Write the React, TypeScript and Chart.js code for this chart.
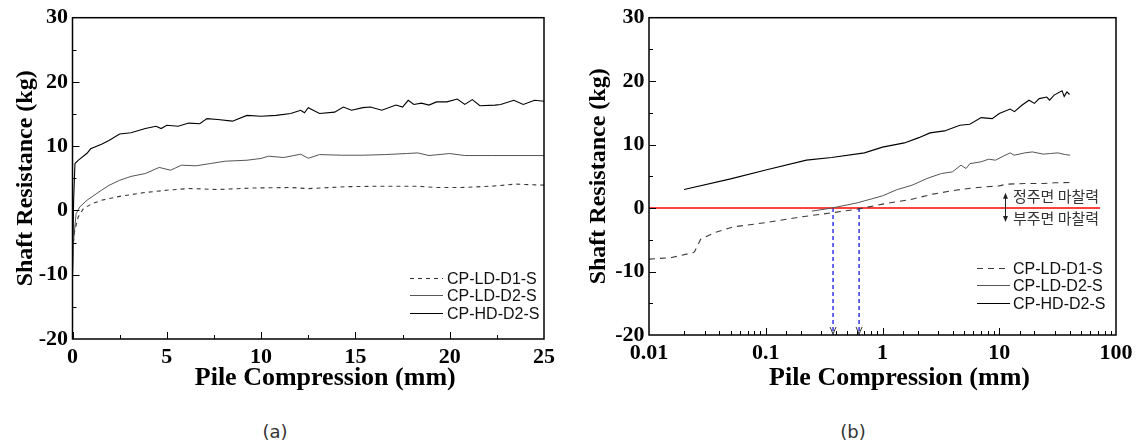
import React, { useEffect, useRef } from 'react';
import { Chart, registerables } from 'chart.js';
Chart.register(...registerables);

type P = [number, number];

const seriesNames = ['CP-LD-D1-S', 'CP-LD-D2-S', 'CP-HD-D2-S'];
const panelLabels = ['(a)', '(b)'];
const xTitle = 'Pile Compression (mm)';
const yTitle = 'Shaft Resistance (kg)';
const logTickLabels = ['0.01', '0.1', '1', '10', '100'];

// (a) linear x
const aLD1: P[] = [
  [0.05, -5], [0.1, -3.4], [0.3, -1.0], [0.58, 0.3], [1.0, 1.0], [1.54, 1.6], [2.5, 2.2], [3.86, 2.8],
  [5.0, 3.16], [6.17, 3.42], [7.7, 3.26], [9.6, 3.5], [11.57, 3.57], [12.5, 3.4], [14.5, 3.7],
  [16.4, 3.78], [18.3, 3.78], [19.3, 3.57], [20.6, 3.57], [22.2, 3.78], [23.5, 4.1], [25, 3.94],
];
const aLD2: P[] = [
  [0, -10], [0.06, -4.6], [0.19, -0.5], [0.39, 0.57], [0.77, 1.6], [1.54, 3.16], [1.93, 3.9], [2.5, 4.7],
  [3.1, 5.3], [3.86, 5.75], [4.6, 6.7], [5.2, 6.27], [5.78, 7.05], [6.55, 6.95], [7.3, 7.3], [8.1, 7.67],
  [9.25, 7.82], [10.0, 8.1], [10.4, 8.45], [11.2, 8.24], [12.1, 8.76], [12.5, 8.13], [13.1, 8.7],
  [14.26, 8.6], [15.4, 8.6], [16.6, 8.7], [17.7, 8.86], [18.3, 8.96], [18.9, 8.55], [20.0, 8.86],
  [20.8, 8.55], [22.2, 8.55], [25, 8.55],
];
const aHD2: P[] = [
  [0, -10.3], [0.06, 1.6], [0.13, 7.3], [0.3, 7.8], [0.77, 8.9], [0.96, 9.6], [1.54, 10.3], [1.93, 10.9],
  [2.5, 11.9], [3.1, 12.1], [3.86, 12.75], [4.43, 13.1], [4.7, 12.75], [5.0, 13.26], [5.6, 13.1],
  [6.17, 13.6], [6.75, 13.5], [7.13, 14.3], [7.7, 14.15], [8.48, 13.9], [9.25, 14.8], [10.0, 14.66],
  [10.8, 14.8], [11.57, 15.1], [12.1, 15.6], [12.3, 15.2], [12.5, 16.0], [13.1, 15.1], [13.9, 15.3],
  [14.36, 16.1], [14.8, 15.6], [15.4, 16.0], [15.8, 16.1], [16.4, 15.6], [17.15, 16.4], [17.5, 16.1],
  [17.8, 17.15], [18.1, 16.5], [18.5, 16.7], [18.9, 16.4], [19.3, 16.9], [19.85, 16.9], [20.4, 17.35],
  [20.8, 16.5], [21.2, 17.25], [21.6, 16.3], [22.4, 16.4], [22.7, 16.5], [23.4, 17.15], [23.9, 16.5],
  [24.5, 17.15], [25, 17.0],
];

// (b) log x
const bLD1: P[] = [
  [0.01, -8.04], [0.0156, -7.8], [0.024, -7.0], [0.0245, -6.9], [0.0258, -6.1], [0.0277, -4.9],
  [0.037, -3.84], [0.053, -2.95], [0.1, -2.3], [0.2, -1.4], [0.366, -0.75], [0.61, -0.17], [1.0, 0.62],
  [1.79, 1.4], [2.7, 2.2], [4.2, 2.82], [6.5, 3.24], [10, 3.5], [11.6, 3.77], [16.6, 3.87], [23.8, 3.87],
  [29.5, 3.98], [40.5, 4.03],
];
const bLD2: P[] = [
  [0.248, -0.48], [0.366, 0.0], [0.61, 0.83], [1.0, 1.93], [1.34, 2.93], [1.79, 3.6], [2.4, 4.66],
  [3.2, 5.45], [3.96, 5.7], [4.7, 6.76], [5.2, 6.23], [5.6, 7.0], [7.0, 7.3], [8.1, 7.7], [9.3, 7.55],
  [10.8, 8.17], [12.4, 8.7], [13.4, 8.33], [16.6, 8.7], [19.2, 8.85], [23.8, 8.5], [27.5, 8.6],
  [31.7, 8.7], [36.7, 8.43], [40.5, 8.33],
];
const bHD2: P[] = [
  [0.02, 2.93], [0.05, 4.6], [0.1, 6.0], [0.223, 7.55], [0.366, 7.96], [0.7, 8.7], [1.0, 9.6],
  [1.54, 10.27], [2.05, 11.1], [2.55, 11.85], [3.4, 12.16], [4.6, 13.05], [5.6, 13.2], [7.0, 14.25],
  [8.7, 14.1], [10, 14.9], [12.4, 15.6], [13.5, 15.2], [15.6, 16.2], [18, 17.0], [20, 16.5], [22, 17.25],
  [25.5, 17.5], [27, 17.0], [29.5, 17.8], [34.5, 18.5], [36, 17.6], [38, 18.3], [40, 17.9],
];
const zeroLineX = [0.01, 73];
const crossingX = [0.377, 0.63];
const frictionLabels = ['정주면 마찰력', '부주면 마찰력'];
const frictionLabelAt = { x: 13.1, yUp: 1.9, yDown: -1.6, arrowTop: 2.4, arrowBottom: -2.2 };

const SERIF = '"Liberation Serif", "Times New Roman", serif';
const SANS = '"Liberation Sans", Arial, sans-serif';

const toXY = (pts: P[]) => pts.map(([x, y]) => ({ x, y }));

const frameTicks = {
  id: 'frameTicks',
  afterDraw(chart: any) {
    const { ctx, chartArea: ca, scales } = chart;
    ctx.save();
    ctx.strokeStyle = '#000';
    ctx.lineWidth = 1;
    const xs = scales.x;
    const ys = scales.y;
    xs.ticks.forEach((t: any) => {
      const px = Math.round(xs.getPixelForValue(t.value)) + 0.5;
      if (px < ca.left + 1 || px > ca.right - 1) return;
      const len = t.label ? 7 : 4;
      ctx.beginPath();
      ctx.moveTo(px, ca.bottom);
      ctx.lineTo(px, ca.bottom - len);
      ctx.stroke();
    });
    ys.ticks.forEach((t: any) => {
      const py = Math.round(ys.getPixelForValue(t.value)) + 0.5;
      if (py < ca.top + 1 || py > ca.bottom - 1) return;
      const len = t.label ? 7 : 4;
      ctx.beginPath();
      ctx.moveTo(ca.left, py);
      ctx.lineTo(ca.left + len, py);
      ctx.stroke();
    });
    ctx.lineWidth = 1.5;
    ctx.strokeRect(ca.left, ca.top, ca.right - ca.left, ca.bottom - ca.top);
    // x axis title (sits slightly right of the plot centre in the reference)
    ctx.font = `bold 26px ${SERIF}`;
    ctx.fillStyle = '#000';
    ctx.textAlign = 'center';
    ctx.textBaseline = 'middle';
    ctx.fillText(xTitle, (ca.left + ca.right) / 2 + 17, chart.height - 22);
    ctx.restore();
  },
};

const customLegend = {
  id: 'customLegend',
  afterDraw(chart: any, _args: any, opts: any) {
    const { ctx, chartArea: ca } = chart;
    ctx.save();
    ctx.font = `16px ${SANS}`;
    ctx.textBaseline = 'middle';
    ctx.textAlign = 'left';
    ctx.fillStyle = '#111';
    for (let i = 0; i < 3; i++) {
      const ds = chart.data.datasets[i];
      const y = Math.round(ca.bottom - opts.rows[i]) + 0.5;
      ctx.strokeStyle = ds.borderColor;
      ctx.lineWidth = ds.borderWidth;
      ctx.setLineDash(ds.borderDash || []);
      ctx.beginPath();
      ctx.moveTo(ca.right - opts.lineFrom, y);
      ctx.lineTo(ca.right - opts.lineTo, y);
      ctx.stroke();
      ctx.setLineDash([]);
      ctx.fillText(ds.label, ca.right - opts.textFrom, y + 1);
    }
    ctx.restore();
  },
};

const frictionNotes = {
  id: 'frictionNotes',
  afterDraw(chart: any) {
    const { ctx, chartArea: ca, scales } = chart;
    const xs = scales.x;
    const ys = scales.y;
    ctx.save();
    ctx.fillStyle = '#222';
    ctx.lineWidth = 1;
    crossingX.forEach((v) => {
      const px = xs.getPixelForValue(v);
      ctx.strokeStyle = '#333';
      ctx.beginPath();
      ctx.moveTo(px - 3, ca.bottom - 8);
      ctx.lineTo(px, ca.bottom - 1);
      ctx.lineTo(px + 3, ca.bottom - 8);
      ctx.stroke();
    });
    const tx = xs.getPixelForValue(frictionLabelAt.x);
    const ax = Math.round(tx - 8) + 0.5;
    const yt = ys.getPixelForValue(frictionLabelAt.arrowTop);
    const yb = ys.getPixelForValue(frictionLabelAt.arrowBottom);
    ctx.strokeStyle = '#222';
    ctx.beginPath();
    ctx.moveTo(ax, yt + 2);
    ctx.lineTo(ax, yb - 2);
    ctx.stroke();
    ctx.beginPath();
    ctx.moveTo(ax, yt);
    ctx.lineTo(ax - 2.5, yt + 6);
    ctx.lineTo(ax + 2.5, yt + 6);
    ctx.closePath();
    ctx.fill();
    ctx.beginPath();
    ctx.moveTo(ax, yb);
    ctx.lineTo(ax - 2.5, yb - 6);
    ctx.lineTo(ax + 2.5, yb - 6);
    ctx.closePath();
    ctx.fill();
    ctx.font = `15px "Noto Sans CJK KR", sans-serif`;
    ctx.textBaseline = 'middle';
    ctx.textAlign = 'left';
    ctx.fillStyle = '#333';
    ctx.fillText(frictionLabels[0], tx, ys.getPixelForValue(frictionLabelAt.yUp));
    ctx.fillText(frictionLabels[1], tx, ys.getPixelForValue(frictionLabelAt.yDown));
    ctx.restore();
  },
};

function seriesDatasets(sets: P[][], d1Dash: number[]) {
  const styles = [
    { borderColor: '#3a3a3a', borderWidth: 1.1, borderDash: d1Dash },
    { borderColor: '#555555', borderWidth: 1, borderDash: [] as number[] },
    { borderColor: '#000000', borderWidth: 1.1, borderDash: [] as number[] },
  ];
  return sets.map((pts, i) => ({
    label: seriesNames[i],
    data: toXY(pts),
    pointRadius: 0,
    tension: 0,
    fill: false,
    ...styles[i],
  }));
}

const tickFont = { family: SERIF, size: 22, weight: 'bold' };

function yAxis(width: number, titlePad: number) {
  return {
    type: 'linear',
    min: -20,
    max: 30,
    grid: { display: false, drawTicks: false, tickLength: 0 },
    border: { display: false },
    ticks: {
      stepSize: 5,
      autoSkip: false,
      padding: 4.5,
      color: '#000',
      font: tickFont,
      callback: (v: any) => (Number(v) % 10 === 0 ? String(v) : ''),
    },
    title: {
      display: true,
      text: yTitle,
      color: '#000',
      font: { family: SERIF, size: 24, weight: 'bold' },
      padding: { top: titlePad, bottom: 0 },
    },
    afterFit: (s: any) => { s.width = width; },
  };
}

function configA(): any {
  return {
    type: 'line',
    data: { datasets: seriesDatasets([aLD1, aLD2, aHD2], [4, 4]) },
    options: {
      animation: false,
      responsive: false,
      devicePixelRatio: 1,
      layout: { padding: { left: 0, right: 26, top: 17, bottom: 0 } },
      plugins: {
        legend: { display: false },
        tooltip: { enabled: false },
        customLegend: { lineFrom: 134, lineTo: 101, textFrom: 97, rows: [61, 44, 26] },
      },
      scales: {
        x: {
          type: 'linear',
          min: 0,
          max: 25,
          grid: { display: false, drawTicks: false, tickLength: 0 },
          border: { display: false },
          ticks: {
            stepSize: 2.5,
            autoSkip: false,
            maxRotation: 0,
            padding: 5,
            color: '#000',
            font: tickFont,
            callback: (v: any) => (Number(v) % 5 === 0 ? String(v) : ''),
          },
          title: { display: false },
          afterFit: (s: any) => { s.height = 61; },
        },
        y: yAxis(72.5, 11),
      },
    },
    plugins: [frameTicks, customLegend],
  };
}

function configB(): any {
  const extra = [
    {
      label: 'zero',
      data: zeroLineX.map((x) => ({ x, y: 0 })),
      borderColor: '#ff0000',
      borderWidth: 1.5,
      pointRadius: 0,
    },
    ...crossingX.map((x) => ({
      label: 'cross',
      data: [{ x, y: 0 }, { x, y: -20 }],
      borderColor: '#0000dd',
      borderWidth: 1.2,
      borderDash: [4, 3],
      pointRadius: 0,
    })),
  ];
  return {
    type: 'line',
    data: { datasets: [...seriesDatasets([bLD1, bLD2, bHD2], [6, 5]), ...extra] },
    options: {
      animation: false,
      responsive: false,
      devicePixelRatio: 1,
      layout: { padding: { left: 0, right: 25, top: 17, bottom: 0 } },
      plugins: {
        legend: { display: false },
        tooltip: { enabled: false },
        customLegend: { lineFrom: 139, lineTo: 106, textFrom: 103, rows: [67, 50, 32] },
      },
      scales: {
        x: {
          type: 'logarithmic',
          min: 0.01,
          max: 100,
          grid: { display: false, drawTicks: false, tickLength: 0 },
          border: { display: false },
          ticks: {
            autoSkip: false,
            maxRotation: 0,
            padding: 5,
            color: '#000',
            font: tickFont,
            callback: (v: any) => {
              const l = Math.log10(Number(v));
              const e = Math.round(l);
              return Math.abs(l - e) < 1e-6 ? logTickLabels[e + 2] : '';
            },
          },
          title: { display: false },
          afterFit: (s: any) => { s.height = 65; },
        },
        y: yAxis(79, 14),
      },
    },
    plugins: [frameTicks, customLegend, frictionNotes],
  };
}

function ChartCanvas({ make, left, w, h }: { make: () => any; left: number; w: number; h: number }) {
  const ref = useRef<HTMLCanvasElement>(null);
  useEffect(() => {
    const c = new Chart(ref.current as HTMLCanvasElement, make());
    return () => c.destroy();
  }, []);
  return (
    <canvas
      ref={ref}
      width={w}
      height={h}
      style={{ position: 'absolute', left, top: 0, width: w, height: h }}
    />
  );
}

export default function App() {
  const cap = {
    position: 'absolute' as const,
    top: 420,
    width: 60,
    textAlign: 'center' as const,
    fontFamily: '"DejaVu Sans", "Noto Sans", sans-serif',
    fontSize: 18,
    color: '#333',
    lineHeight: '24px',
  };
  return (
    <div style={{ position: 'absolute', left: 0, top: 0, width: 1141, height: 445, background: '#fff', overflow: 'hidden' }}>
      <ChartCanvas make={configA} left={0} w={570} h={400} />
      <ChartCanvas make={configB} left={570} w={571} h={400} />
      <div style={{ ...cap, left: 275 - 30 }}>{panelLabels[0]}</div>
      <div style={{ ...cap, left: 853 - 30 }}>{panelLabels[1]}</div>
    </div>
  );
}
